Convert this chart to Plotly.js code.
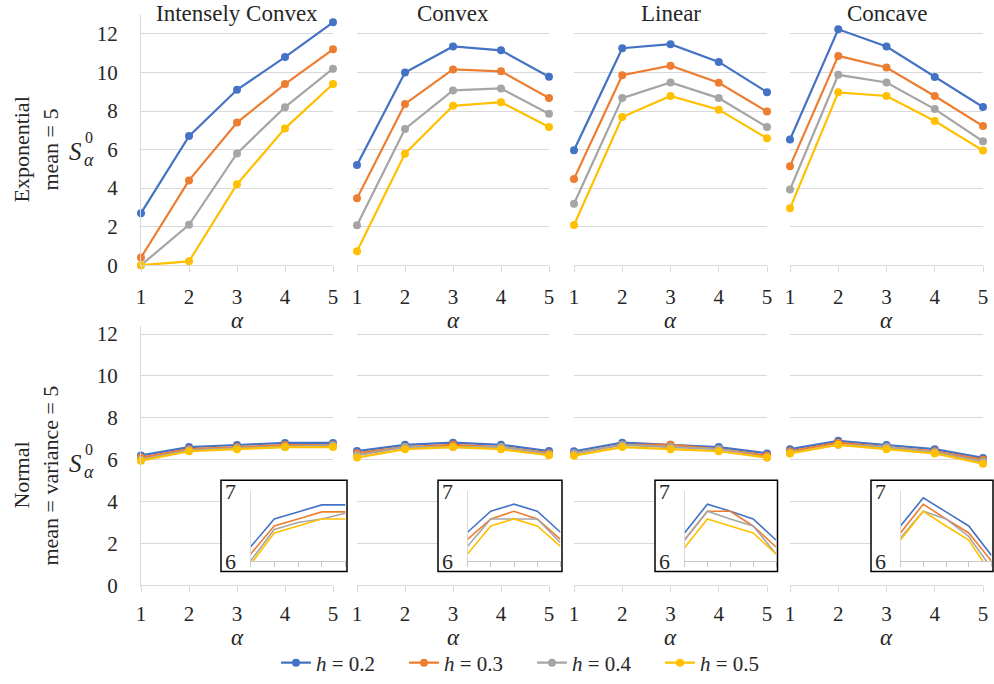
<!DOCTYPE html>
<html>
<head>
<meta charset="utf-8">
<script src="https://cdn.plot.ly/plotly-3.0.1.min.js"></script>
<style>html,body{margin:0;padding:0;background:#fff;}#chart{width:994px;height:684px;}</style>
</head>
<body>
<div id="chart"></div>
<script>
// ---------- DATA ----------
const alpha = [1, 2, 3, 4, 5];
const hLabels = ['0.2', '0.3', '0.4', '0.5'];
const shapeNames = ['Intensely Convex', 'Convex', 'Linear', 'Concave'];
const insetTicks = [6, 7];

// Exponential, mean = 5 (rows: h = 0.2, 0.3, 0.4, 0.5)
const expIntenselyConvex = [
  [2.7, 6.7, 9.1, 10.8, 12.6],
  [0.4, 4.4, 7.4, 9.4, 11.2],
  [0.0, 2.1, 5.8, 8.2, 10.2],
  [0.0, 0.2, 4.2, 7.1, 9.4]
];
const expConvex = [
  [5.2, 10.0, 11.35, 11.15, 9.78],
  [3.47, 8.37, 10.16, 10.06, 8.67],
  [2.07, 7.07, 9.07, 9.17, 7.86],
  [0.72, 5.79, 8.27, 8.46, 7.17]
];
const expLinear = [
  [5.97, 11.26, 11.47, 10.55, 8.98],
  [4.48, 9.86, 10.35, 9.47, 7.97],
  [3.19, 8.67, 9.48, 8.67, 7.17],
  [2.09, 7.69, 8.78, 8.07, 6.59]
];
const expConcave = [
  [6.52, 12.24, 11.35, 9.76, 8.21],
  [5.14, 10.86, 10.26, 8.78, 7.22],
  [3.93, 9.88, 9.48, 8.1, 6.43],
  [2.95, 8.97, 8.78, 7.48, 5.95]
];

// Normal, mean = variance = 5
const normIntenselyConvex = [
  [6.2, 6.6, 6.7, 6.8, 6.8],
  [6.1, 6.5, 6.6, 6.7, 6.7],
  [6.0, 6.45, 6.55, 6.6, 6.68],
  [5.95, 6.4, 6.5, 6.6, 6.6]
];
const normConvex = [
  [6.41, 6.71, 6.81, 6.71, 6.41],
  [6.31, 6.6, 6.71, 6.6, 6.31],
  [6.21, 6.6, 6.6, 6.6, 6.26],
  [6.1, 6.5, 6.6, 6.5, 6.21]
];
const normLinear = [
  [6.4, 6.81, 6.71, 6.6, 6.3],
  [6.3, 6.71, 6.71, 6.5, 6.2],
  [6.3, 6.71, 6.6, 6.5, 6.1],
  [6.19, 6.6, 6.5, 6.4, 6.1]
];
const normConcave = [
  [6.5, 6.9, 6.7, 6.5, 6.08],
  [6.4, 6.81, 6.6, 6.4, 6.0],
  [6.33, 6.71, 6.6, 6.35, 5.9],
  [6.3, 6.71, 6.5, 6.3, 5.81]
];

const seriesColors = ['#4472C4', '#ED7D31', '#A5A5A5', '#FFC000'];

// ---------- LAYOUT HELPERS ----------
const W = 994, H = 684;
const fx = v => v / W;
const fy = v => 1 - v / H;
const FONT = 'Liberation Serif';
const TXT = '#262626';
const GRID = '#d9d9d9';

const rows = [
  [expIntenselyConvex, expConvex, expLinear, expConcave],
  [normIntenselyConvex, normConvex, normLinear, normConcave]
];
const colPx = [[141, 333], [357, 549], [574, 767], [790, 983]];
const rowPx = [
  {bottom: 266, top: 14.7, range: [0, 13], standoff: 7, alphaY: 321},
  {bottom: 587, top: 326.6, range: [0, 12.4], standoff: 4, alphaY: 639}
];
const boxPx = [[221, 347], [438, 562], [655, 777.5], [871, 993]];
const boxTop = 481.7, boxBottom = 573.3;
const insetTop = 492.3, insetBottom = 562.7;

const traces = [];
const layout = {
  width: W, height: H,
  margin: {l: 0, r: 0, t: 0, b: 0},
  paper_bgcolor: '#ffffff',
  plot_bgcolor: '#ffffff',
  font: {family: FONT, color: TXT, size: 20},
  showlegend: true,
  legend: {
    orientation: 'h', x: fx(276), xanchor: 'left', y: fy(665), yanchor: 'middle',
    font: {family: FONT, size: 21, color: TXT},
    entrywidth: 83, entrywidthmode: 'pixels',
    bgcolor: 'rgba(0,0,0,0)', traceorder: 'normal'
  },
  annotations: [],
  shapes: []
};

for (let r = 0; r < 2; r++) {
  for (let c = 0; c < 4; c++) {
    const k = r * 4 + c + 1;
    const sfx = k === 1 ? '' : String(k);
    layout['xaxis' + sfx] = {
      domain: [fx(colPx[c][0]), fx(colPx[c][1])],
      range: [1, 5], anchor: 'y' + sfx,
      tickvals: alpha, ticks: 'outside', ticklen: 6, tickcolor: GRID,
      showline: true, linecolor: GRID, linewidth: 1,
      showgrid: false, zeroline: false,
      tickfont: {family: FONT, size: 21, color: TXT},
      ticklabelstandoff: rowPx[r].standoff, fixedrange: true
    };
    layout['yaxis' + sfx] = {
      domain: [fy(rowPx[r].bottom), fy(rowPx[r].top)],
      range: rowPx[r].range, anchor: 'x' + sfx,
      tick0: 0, dtick: 2,
      showgrid: true, gridcolor: GRID, gridwidth: 1,
      zeroline: false,
      showline: c === 0, linecolor: GRID, linewidth: 1,
      showticklabels: c === 0, ticks: '',
      tickfont: {family: FONT, size: 21, color: TXT},
      ticklabelstandoff: 18, fixedrange: true
    };
    const data = rows[r][c];
    for (let s = 0; s < 4; s++) {
      traces.push({
        type: 'scatter', mode: 'lines+markers',
        x: alpha, y: data[s],
        xaxis: 'x' + sfx, yaxis: 'y' + sfx,
        name: '<i>h</i> = ' + hLabels[s],
        legendgroup: 'h' + s,
        showlegend: k === 1,
        line: {color: seriesColors[s], width: 2.2},
        marker: {color: seriesColors[s], size: 8},
        cliponaxis: false, hoverinfo: 'skip'
      });
    }
    layout.annotations.push({
      text: '<i>α</i>', xref: 'paper', yref: 'paper',
      x: fx((colPx[c][0] + colPx[c][1]) / 2), y: fy(rowPx[r].alphaY),
      xanchor: 'center', yanchor: 'middle', showarrow: false,
      font: {family: FONT, size: 23, color: TXT}
    });
  }
}

for (let c = 0; c < 4; c++) {
  const kb = 9 + c, ki = 13 + c;
  layout['xaxis' + kb] = {domain: [fx(boxPx[c][0]), fx(boxPx[c][1])], range: [0, 1], anchor: 'y' + kb, visible: false, fixedrange: true};
  layout['yaxis' + kb] = {domain: [fy(boxBottom), fy(boxTop)], range: [0, 1], anchor: 'x' + kb, visible: false, fixedrange: true};
  traces.push({type: 'scatter', x: [], y: [], xaxis: 'x' + kb, yaxis: 'y' + kb, showlegend: false, hoverinfo: 'skip'});

  layout['xaxis' + ki] = {
    domain: [fx(boxPx[c][0] + 29.5), fx(boxPx[c][1] - 1.5)],
    range: [1, 5], anchor: 'y' + ki,
    tickvals: alpha, ticks: 'outside', ticklen: 5, tickcolor: '#c8c8c8',
    showline: true, linecolor: '#c8c8c8', showticklabels: false,
    showgrid: false, zeroline: false, fixedrange: true
  };
  layout['yaxis' + ki] = {
    domain: [fy(insetBottom), fy(insetTop)],
    range: [6, 7], anchor: 'x' + ki,
    tickvals: insetTicks, showgrid: true, gridcolor: GRID,
    showline: true, linecolor: GRID, ticks: '', zeroline: false,
    tickfont: {family: FONT, size: 22, color: TXT},
    ticklabelstandoff: 9, fixedrange: true
  };
  const data = rows[1][c];
  for (let s = 0; s < 4; s++) {
    traces.push({
      type: 'scatter', mode: 'lines', x: alpha, y: data[s],
      xaxis: 'x' + ki, yaxis: 'y' + ki, showlegend: false,
      line: {color: seriesColors[s], width: 1.6}, hoverinfo: 'skip'
    });
  }
  layout.shapes.push({
    type: 'rect', xref: 'paper', yref: 'paper', layer: 'above',
    x0: fx(boxPx[c][0]), x1: fx(boxPx[c][1]), y0: fy(boxBottom), y1: fy(boxTop),
    line: {color: '#000000', width: 1.5}, fillcolor: 'rgba(0,0,0,0)'
  });
  layout.annotations.push({
    text: shapeNames[c], xref: 'paper', yref: 'paper',
    x: fx((colPx[c][0] + colPx[c][1]) / 2), y: fy(14),
    xanchor: 'center', yanchor: 'middle', showarrow: false,
    font: {family: FONT, size: 23, color: TXT}
  });
}

const rowLabels = [
  {l1: 'Exponential', l2: 'mean = 5', cy: 150},
  {l1: 'Normal', l2: 'mean = variance = 5', cy: 477}
];
const sCy = [152, 465];
rowLabels.forEach((rl, i) => {
  layout.annotations.push({text: rl.l1, xref: 'paper', yref: 'paper', x: fx(22), y: fy(rl.cy), textangle: -90,
    xanchor: 'center', yanchor: 'middle', showarrow: false, font: {family: FONT, size: 22, color: TXT}});
  layout.annotations.push({text: rl.l2, xref: 'paper', yref: 'paper', x: fx(51), y: fy(rl.cy), textangle: -90,
    xanchor: 'center', yanchor: 'middle', showarrow: false, font: {family: FONT, size: 22, color: TXT}});
  layout.annotations.push({text: '<i>S</i>', xref: 'paper', yref: 'paper', x: fx(84), y: fy(sCy[i]),
    xanchor: 'right', yanchor: 'middle', showarrow: false, font: {family: FONT, size: 25, color: TXT}});
  layout.annotations.push({text: '0', xref: 'paper', yref: 'paper', x: fx(84), y: fy(sCy[i] - 5),
    xanchor: 'left', yanchor: 'bottom', showarrow: false, borderpad: 0, font: {family: FONT, size: 16, color: TXT}});
  layout.annotations.push({text: '<i>α</i>', xref: 'paper', yref: 'paper', x: fx(83), y: fy(sCy[i] - 3),
    xanchor: 'left', yanchor: 'top', showarrow: false, borderpad: 0, font: {family: FONT, size: 18, color: TXT}});
});

Plotly.newPlot('chart', traces, layout, {staticPlot: true, displayModeBar: false});
</script>
</body>
</html>
